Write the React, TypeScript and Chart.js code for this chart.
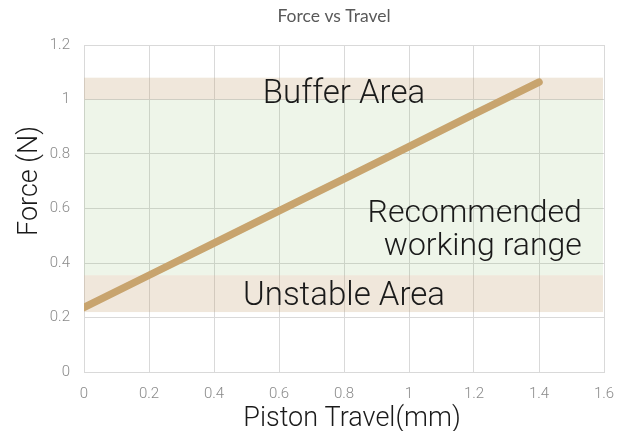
import React, { useEffect, useRef } from "react";
import { Chart, registerables } from "chart.js";

Chart.register(...registerables);

// ---- data ----
const chartTitle = "Force vs Travel";
const xAxisTitle = "Piston Travel(mm)";
const yAxisTitle = "Force (N)";
const travel = [0, 0.2, 0.4, 0.6, 0.8, 1.0, 1.2, 1.4];
const force = [0.237, 0.355, 0.473, 0.591, 0.709, 0.827, 0.946, 1.064];
const xTickValues = [0, 0.2, 0.4, 0.6, 0.8, 1, 1.2, 1.4, 1.6];
const yTickValues = [0, 0.2, 0.4, 0.6, 0.8, 1, 1.2];
const bandNames = ["Buffer Area", "Recommended working range", "Unstable Area"];
const bandLow = [1.0, 0.355, 0.22];
const bandHigh = [1.08, 1.0, 0.355];

const LIGHT_FONT = "Roboto, 'Open Sans', 'DejaVu Sans', sans-serif";

const bandColors = [
  "rgba(197,160,110,0.25)",
  "rgba(112,173,71,0.12)",
  "rgba(197,160,110,0.25)",
];

const overlayPlugin = {
  id: "overlay",
  beforeDatasetsDraw(chart: any) {
    const { ctx, chartArea, scales } = chart;
    const x = scales.x;
    const y = scales.y;
    ctx.save();
    ctx.beginPath();
    ctx.rect(chartArea.left, chartArea.top, chartArea.right - chartArea.left, chartArea.bottom - chartArea.top);
    ctx.clip();
    const x0 = x.getPixelForValue(xTickValues[0]);
    const x1 = x.getPixelForValue(xTickValues[xTickValues.length - 1]) - 1;
    bandLow.forEach((lo, i) => {
      const top = y.getPixelForValue(bandHigh[i]);
      const bot = y.getPixelForValue(lo);
      ctx.fillStyle = bandColors[i];
      ctx.fillRect(x0, top, x1 - x0, bot - top);
    });
    ctx.restore();
  },
  afterDatasetsDraw(chart: any) {
    const { ctx, chartArea, scales } = chart;
    const x = scales.x;
    const y = scales.y;
    ctx.save();
    ctx.fillStyle = "#1a1a1a";
    ctx.font = `300 33px ${LIGHT_FONT}`;
    ctx.textBaseline = "alphabetic";
    // Buffer Area
    ctx.textAlign = "center";
    ctx.fillText(bandNames[0], x.getPixelForValue(0.8), y.getPixelForValue(0.988));
    // Unstable Area
    ctx.fillText(bandNames[2], x.getPixelForValue(0.8), y.getPixelForValue(0.246));
    // Recommended working range
    ctx.textAlign = "right";
    const words = bandNames[1].split(" ");
    ctx.font = `300 32px ${LIGHT_FONT}`;
    ctx.fillText(words[0], x.getPixelForValue(1.532), y.getPixelForValue(0.55));
    ctx.fillText(words.slice(1).join(" "), x.getPixelForValue(1.532), y.getPixelForValue(0.43));

    // chart title
    ctx.fillStyle = "#595959";
    ctx.font = `400 17.5px Lato, 'Open Sans', sans-serif`;
    ctx.textAlign = "center";
    ctx.fillText(chartTitle, chartArea.left + 250, 22);

    // axis titles
    ctx.fillStyle = "#1a1a1a";
    ctx.font = `300 27px ${LIGHT_FONT}`;
    ctx.fillText(xAxisTitle, chartArea.left + 268, 426);
    ctx.translate(37, chartArea.top + 136);
    ctx.rotate(-Math.PI / 2);
    ctx.fillText(yAxisTitle, 0, 0);
    ctx.restore();
  },
};

export default function App() {
  const ref = useRef<HTMLCanvasElement | null>(null);

  useEffect(() => {
    if (!ref.current) return;
    const tickFont = { family: LIGHT_FONT, size: 15, weight: "300" as any };
    const fmt = (v: any) => String(Number(v));
    const chart = new Chart(ref.current, {
      type: "line",
      data: {
        datasets: [
          {
            label: "Force",
            data: travel.map((t, i) => ({ x: t, y: force[i] })),
            borderColor: "#C8A46E",
            backgroundColor: "#C8A46E",
            borderWidth: 7.5,
            borderCapStyle: "round",
            borderJoinStyle: "round",
            pointRadius: 0,
            fill: false,
            tension: 0,
          },
        ],
      },
      options: {
        animation: false,
        responsive: false,
        layout: { padding: { top: 45, right: 14, left: 0, bottom: 0 } },
        plugins: {
          legend: { display: false },
          title: { display: false },
          tooltip: { enabled: false },
        },
        scales: {
          x: {
            type: "linear",
            min: 0,
            max: 1.6,
            afterBuildTicks: (s: any) => {
              s.ticks = xTickValues.map((v) => ({ value: v }));
            },
            afterFit: (s: any) => {
              s.height = 59;
              s.paddingLeft = 0;
              s.paddingRight = 0;
            },
            grid: { color: "#D9D9D9", drawTicks: false, lineWidth: 1 },
            border: { color: "#D9D9D9" },
            ticks: { color: "#8A8A8A", font: tickFont, padding: 13, maxRotation: 0, callback: fmt },
          },
          y: {
            type: "linear",
            min: 0,
            max: 1.2,
            afterBuildTicks: (s: any) => {
              s.ticks = yTickValues.map((v) => ({ value: v }));
            },
            afterFit: (s: any) => {
              s.width = 84;
            },
            grid: { color: "#D9D9D9", drawTicks: false, lineWidth: 1 },
            border: { color: "#D9D9D9" },
            ticks: { color: "#8A8A8A", font: tickFont, padding: 14, callback: fmt },
          },
        },
      },
      plugins: [overlayPlugin],
    });
    return () => chart.destroy();
  }, []);

  return (
    <div style={{ position: "fixed", left: 0, top: 0, width: 618, height: 431, background: "#fff" }}>
      <canvas ref={ref} width={618} height={431} style={{ display: "block" }} />
    </div>
  );
}
